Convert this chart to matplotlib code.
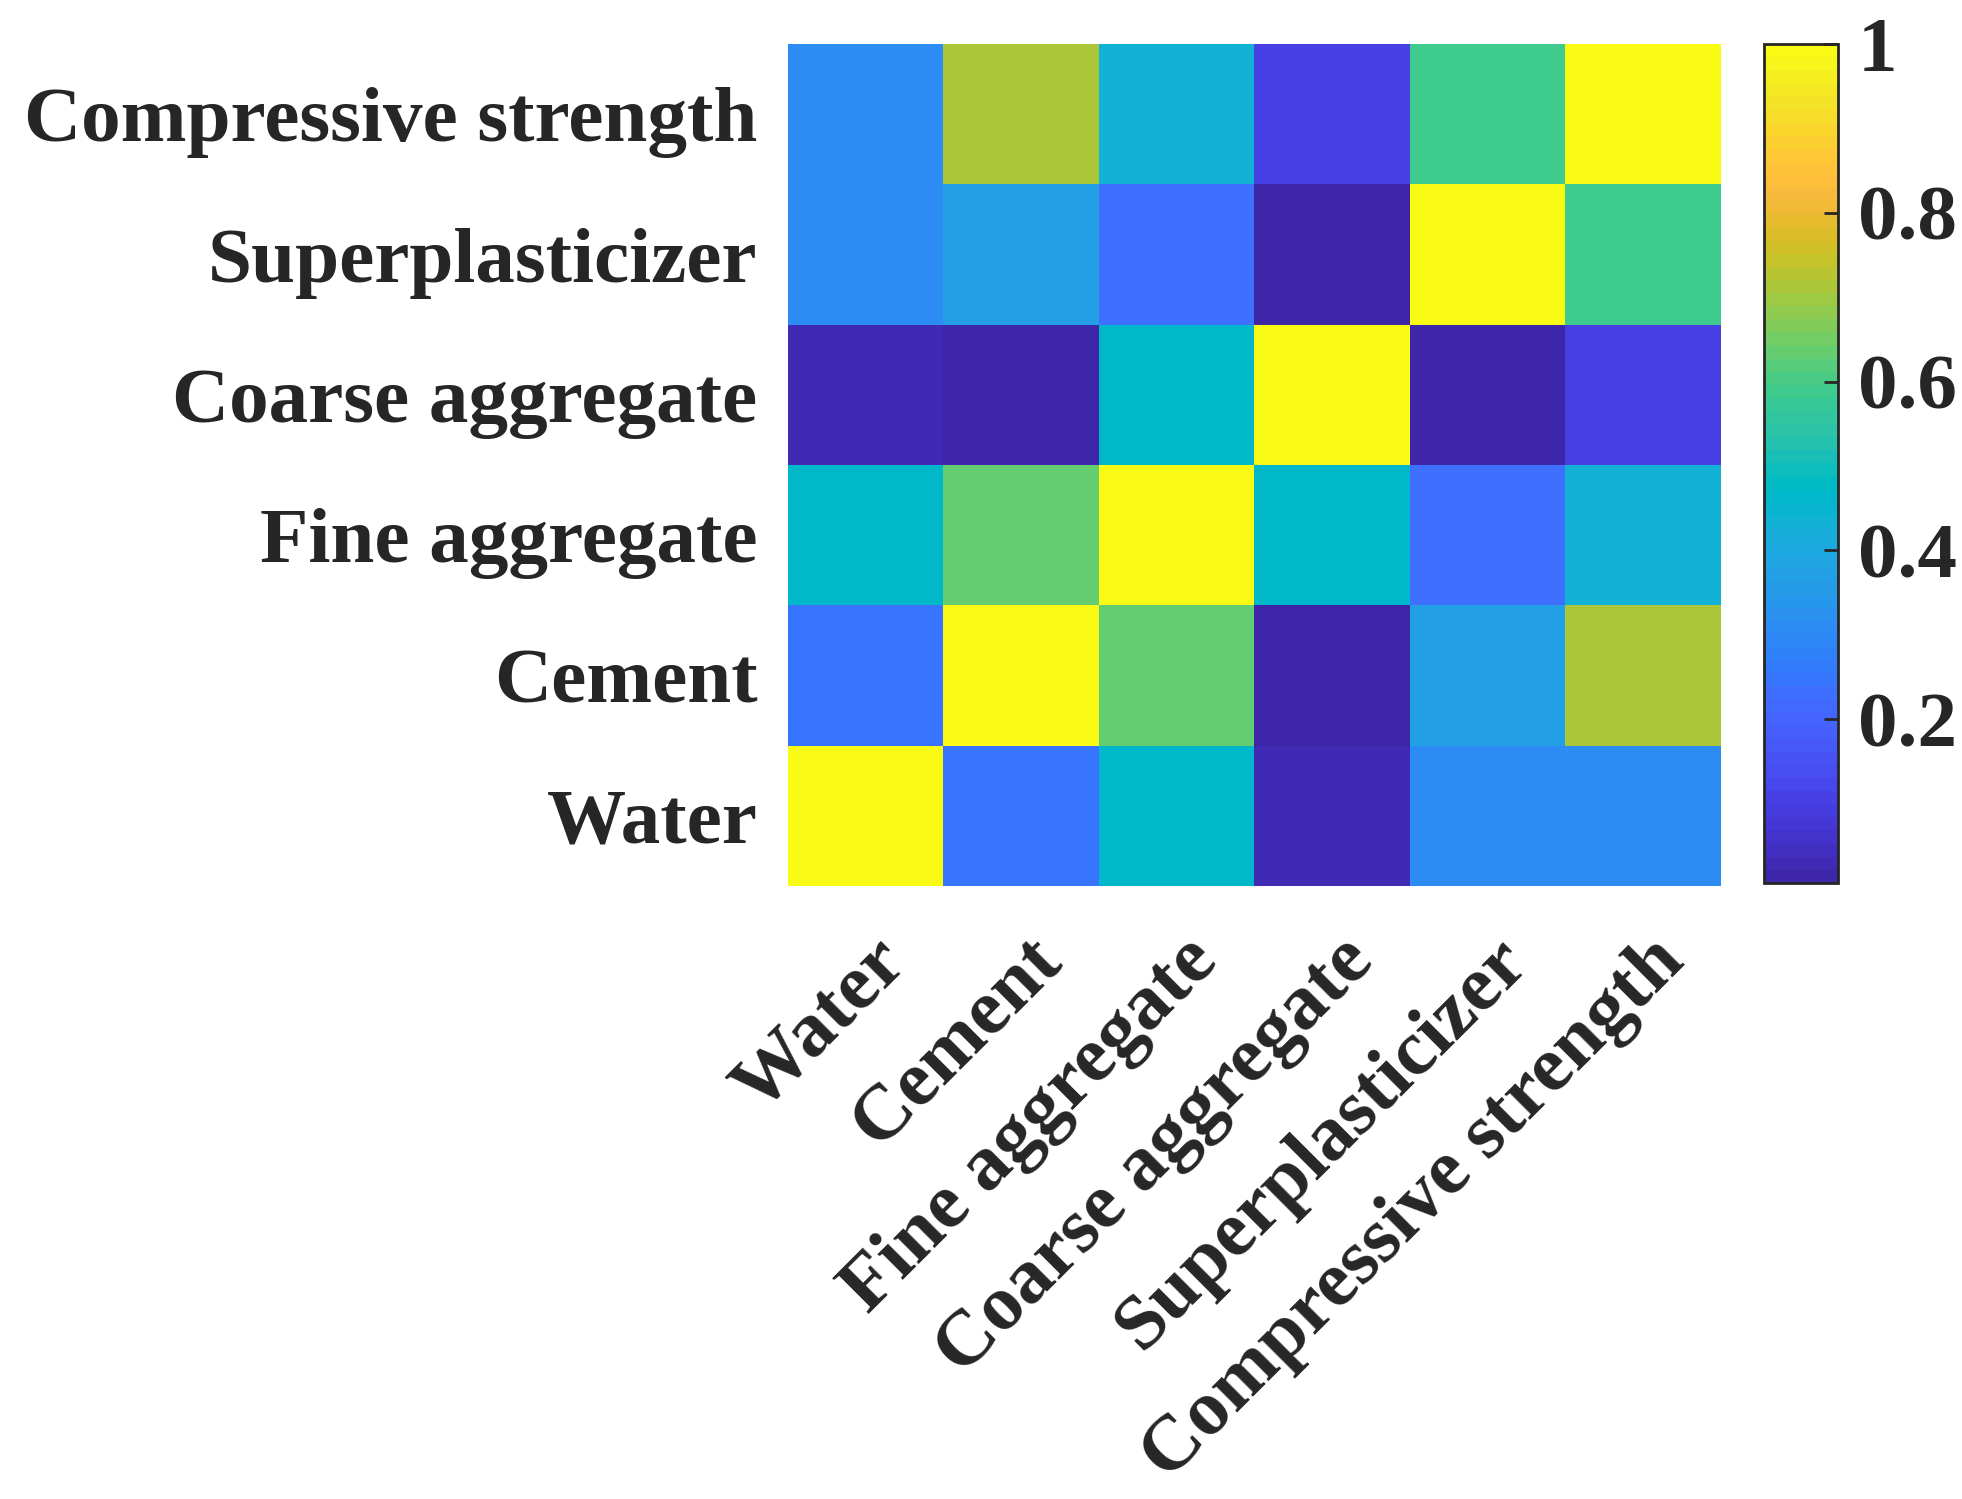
import matplotlib.pyplot as plt
import matplotlib.transforms as mtransforms
import numpy as np
from matplotlib.colors import ListedColormap

# variables, bottom row first (as drawn on the y axis from bottom up)
labels = ['Water', 'Cement', 'Fine aggregate', 'Coarse aggregate',
          'Superplasticizer', 'Compressive strength']

# correlation magnitudes, symmetric, row i / col j in the order of labels
corr = np.array([
    [1.00, 0.25, 0.47, 0.03, 0.31, 0.31],
    [0.25, 1.00, 0.63, 0.01, 0.37, 0.71],
    [0.47, 0.63, 1.00, 0.47, 0.23, 0.44],
    [0.03, 0.01, 0.47, 1.00, 0.006, 0.10],
    [0.31, 0.37, 0.23, 0.006, 1.00, 0.59],
    [0.31, 0.71, 0.44, 0.10, 0.59, 1.00],
])

cbar_ticks = [0.2, 0.4, 0.6, 0.8, 1]
cbar_ticklabels = ['0.2', '0.4', '0.6', '0.8', '1']

# MATLAB parula (64 entries)
parula_data = [
    [0.2422, 0.1504, 0.6603], [0.2504, 0.1650, 0.7076], [0.2578, 0.1818, 0.7511],
    [0.2647, 0.1978, 0.7952], [0.2706, 0.2147, 0.8364], [0.2751, 0.2342, 0.8710],
    [0.2783, 0.2559, 0.8991], [0.2803, 0.2782, 0.9221], [0.2813, 0.3006, 0.9414],
    [0.2810, 0.3228, 0.9579], [0.2795, 0.3447, 0.9717], [0.2760, 0.3667, 0.9829],
    [0.2699, 0.3892, 0.9906], [0.2602, 0.4123, 0.9952], [0.2440, 0.4358, 0.9988],
    [0.2206, 0.4603, 0.9973], [0.1963, 0.4847, 0.9892], [0.1834, 0.5074, 0.9798],
    [0.1786, 0.5289, 0.9682], [0.1764, 0.5499, 0.9520], [0.1687, 0.5703, 0.9359],
    [0.1540, 0.5902, 0.9218], [0.1460, 0.6091, 0.9079], [0.1380, 0.6276, 0.8973],
    [0.1248, 0.6459, 0.8883], [0.1113, 0.6635, 0.8763], [0.0952, 0.6798, 0.8598],
    [0.0689, 0.6948, 0.8394], [0.0297, 0.7082, 0.8163], [0.0036, 0.7203, 0.7917],
    [0.0067, 0.7312, 0.7660], [0.0433, 0.7411, 0.7394], [0.0964, 0.7500, 0.7120],
    [0.1408, 0.7584, 0.6842], [0.1717, 0.7670, 0.6554], [0.1938, 0.7758, 0.6251],
    [0.2161, 0.7843, 0.5923], [0.2470, 0.7918, 0.5567], [0.2906, 0.7973, 0.5188],
    [0.3406, 0.8008, 0.4789], [0.3909, 0.8029, 0.4354], [0.4456, 0.8024, 0.3909],
    [0.5044, 0.7993, 0.3480], [0.5616, 0.7942, 0.3045], [0.6174, 0.7876, 0.2612],
    [0.6720, 0.7793, 0.2227], [0.7242, 0.7698, 0.1910], [0.7738, 0.7598, 0.1646],
    [0.8203, 0.7498, 0.1535], [0.8634, 0.7406, 0.1596], [0.9035, 0.7330, 0.1774],
    [0.9393, 0.7288, 0.2100], [0.9728, 0.7298, 0.2394], [0.9956, 0.7434, 0.2371],
    [0.9970, 0.7659, 0.2199], [0.9952, 0.7893, 0.2028], [0.9892, 0.8136, 0.1885],
    [0.9786, 0.8386, 0.1766], [0.9676, 0.8639, 0.1643], [0.9610, 0.8890, 0.1537],
    [0.9597, 0.9135, 0.1423], [0.9628, 0.9373, 0.1265], [0.9691, 0.9606, 0.1064],
    [0.9769, 0.9839, 0.0805],
]
parula = ListedColormap(parula_data, name='parula')

plt.rcParams['font.family'] = ['Liberation Serif', 'DejaVu Serif']
plt.rcParams['font.weight'] = 'bold'
FS = 57

fig = plt.figure(figsize=(19.62, 14.99), dpi=100)
ax = fig.add_axes([0.4016, 0.409, 0.4755, 0.5616])
cax = fig.add_axes([0.899, 0.411, 0.038, 0.5596])

n = len(labels)
im = ax.pcolormesh(np.arange(n + 1), np.arange(n + 1), corr, cmap=parula,
                   vmin=corr.min(), vmax=corr.max())
ax.set_xlim(0, n)
ax.set_ylim(0, n)
for s in ax.spines.values():
    s.set_visible(False)

ax.set_xticks(np.arange(n) + 0.5)
ax.set_yticks(np.arange(n) + 0.5)
ax.set_xticklabels(labels, rotation=45, ha='right', va='center',
                   rotation_mode='anchor', fontsize=FS, fontweight='bold', color='#262626')
ax.set_yticklabels(labels, fontsize=FS, fontweight='bold', color='#262626')
ax.tick_params(axis='both', length=0)
ax.tick_params(axis='y', pad=22)
ax.tick_params(axis='x', pad=40)

# shift rotated x labels a bit to the right, as in the original
shift = mtransforms.ScaledTranslation(0.30, -0.09, fig.dpi_scale_trans)
for t in ax.get_xticklabels():
    t.set_transform(t.get_transform() + shift)

cb = fig.colorbar(im, cax=cax)
cb.set_ticks(cbar_ticks)
cb.set_ticklabels(cbar_ticklabels)
cb.outline.set_linewidth(2)
cb.outline.set_edgecolor('#262626')
cax.tick_params(direction='in', length=10, width=2, color='#262626', pad=14,
                labelsize=FS, labelcolor='#262626')
for t in cax.get_yticklabels():
    t.set_fontweight('bold')

plt.savefig('out.png', dpi=100)
